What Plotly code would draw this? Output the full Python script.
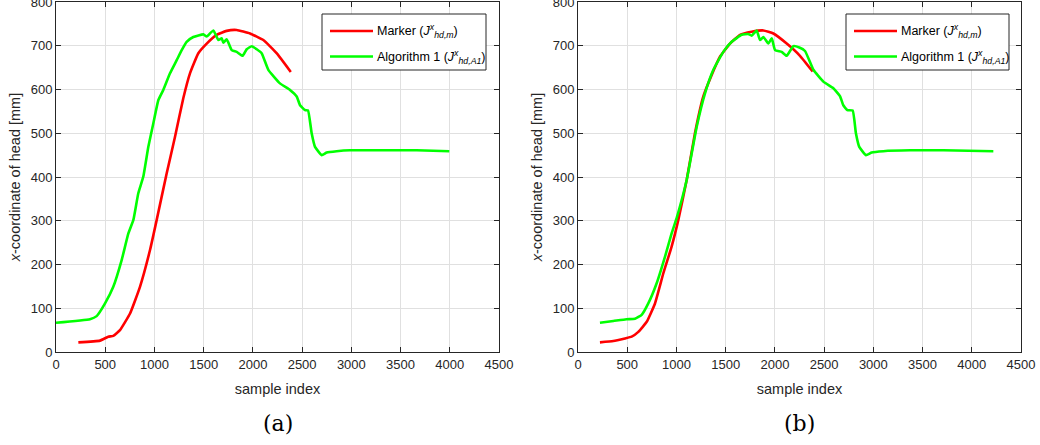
import plotly.graph_objects as go

W, H = 1040, 445

# ---- data: head x-coordinate vs. sample index ----
marker_a_idx = [227, 447, 531, 582, 650, 752, 853, 955, 1023, 1124, 1209, 1293, 1361, 1446,
                1531, 1632, 1734, 1835, 1971, 2106, 2241, 2385]
marker_a_val = [22, 26, 35, 37, 50, 88, 149, 233, 302, 408, 492, 580, 637, 683,
                705, 725, 734, 736, 728, 713, 683, 640]

algo_a_idx = [0, 345, 413, 498, 582, 667, 735, 786, 836, 887, 938, 989, 1040, 1090, 1158,
              1226, 1277, 1327, 1395, 1497, 1531, 1599, 1649, 1683, 1700, 1734, 1785, 1835,
              1896, 1937, 1988, 2039, 2089, 2157, 2275, 2377, 2445, 2479, 2530, 2560, 2597,
              2631, 2699, 2750, 2851, 2986, 3325, 3664, 3995]
algo_a_val = [67, 75, 82, 111, 149, 210, 271, 302, 363, 401, 469, 523, 576, 599, 637,
              667, 690, 709, 720, 726, 721, 735, 713, 717, 707, 715, 690, 686,
              677, 692, 699, 692, 683, 645, 614, 599, 584, 564, 553, 552, 500,
              469, 450, 456, 459, 461, 461, 461, 459]

marker_b_idx = [223, 359, 477, 545, 613, 698, 782, 867, 951, 1019, 1104, 1188, 1273, 1358,
                1442, 1544, 1646, 1764, 1883, 1985, 2120, 2255, 2384]
marker_b_val = [22, 25, 31, 35, 46, 69, 111, 180, 241, 302, 393, 500, 584, 633,
                675, 705, 725, 732, 735, 728, 705, 677, 641]

algo_b_idx = [223, 359, 494, 579, 647, 714, 799, 884, 951, 1002, 1104, 1206, 1290, 1375,
              1476, 1561, 1663, 1730, 1764, 1815, 1849, 1883, 1934, 1968, 2002, 2069, 2120,
              2187, 2248, 2306, 2391, 2492, 2594, 2661, 2695, 2736, 2790, 2823, 2857, 2925,
              2983, 3101, 3373, 3712, 4219]
algo_b_val = [67, 71, 75, 76, 85, 111, 157, 218, 271, 306, 393, 515, 591, 645,
              686, 709, 725, 727, 723, 735, 713, 720, 705, 717, 690, 686, 677,
              699, 696, 688, 645, 618, 603, 585, 564, 553, 552, 500, 469, 450,
              456, 459, 461, 461, 459]

x_ticks = [0, 500, 1000, 1500, 2000, 2500, 3000, 3500, 4000, 4500]
y_ticks = [0, 100, 200, 300, 400, 500, 600, 700, 800]

legend_labels = ["Marker (<i>J</i><sup><i>x</i></sup><sub><i>hd,m</i></sub>)",
                 "Algorithm 1 (<i>J</i><sup><i>x</i></sup><sub><i>hd,A1</i></sub>)"]
panel_tags = ["(a)", "(b)"]

RED = "#ff0000"
GREEN = "#00ff00"
AX = "#262626"
GRID = "#e0e0e0"
FONT = "Liberation Sans, Arial, sans-serif"


def px_x(p):
    return p / W


def px_y(p):
    return 1 - p / H


# plot-area pixel boxes (left, right) and vertical extent shared by both panels
panels = [(56, 499), (578, 1021)]
top_px, bot_px = 2, 352

fig = go.Figure()

series = [
    [(marker_a_idx, marker_a_val, RED), (algo_a_idx, algo_a_val, GREEN)],
    [(marker_b_idx, marker_b_val, RED), (algo_b_idx, algo_b_val, GREEN)],
]

for i, traces in enumerate(series):
    xa = "x" if i == 0 else "x2"
    ya = "y" if i == 0 else "y2"
    for xs, ys, col in traces:
        fig.add_trace(go.Scatter(x=xs, y=ys, mode="lines", xaxis=xa, yaxis=ya,
                                 line=dict(color=col, width=2.6, shape="spline", smoothing=0.4),
                                 showlegend=False, hoverinfo="skip"))

axis_common = dict(showline=True, linecolor=AX, linewidth=1, mirror="ticks",
                   ticks="inside", ticklen=5, tickcolor=AX, showgrid=True,
                   gridcolor=GRID, gridwidth=1, zeroline=False, automargin=False,
                   ticklabeloverflow="allow",
                   tickfont=dict(family=FONT, size=13, color=AX))

layout = dict(width=W, height=H, margin=dict(l=0, r=0, t=0, b=0),
              plot_bgcolor="white", paper_bgcolor="white", showlegend=False)

for i, (l, r) in enumerate(panels):
    sx = "" if i == 0 else "2"
    layout["xaxis" + sx] = dict(axis_common, domain=[px_x(l), px_x(r)], range=[0, 4500],
                                tickvals=x_ticks, anchor="y" + sx,
                                title=dict(text="sample index", standoff=13,
                                           font=dict(family=FONT, size=14.5, color=AX)))
    layout["yaxis" + sx] = dict(axis_common, domain=[px_y(bot_px), px_y(top_px)], range=[0, 800],
                                tickvals=y_ticks, anchor="x" + sx,
                                title=dict(text="<i>x</i>-coordinate of head [mm]", standoff=6,
                                           font=dict(family=FONT, size=14.5, color=AX)))

fig.update_layout(**layout)

# legend boxes drawn in each panel's upper-right corner
legend_boxes = [(322, 486), (846, 1009)]
shapes = []
annotations = []
for (bl, br), tag, (l, r) in zip(legend_boxes, panel_tags, panels):
    shapes.append(dict(type="rect", xref="paper", yref="paper",
                       x0=px_x(bl), x1=px_x(br), y0=px_y(70), y1=px_y(14),
                       line=dict(color=AX, width=1), fillcolor="white", layer="above"))
    for row, (lab, col) in enumerate(zip(legend_labels, [RED, GREEN])):
        yy = 31 + 25.5 * row
        shapes.append(dict(type="line", xref="paper", yref="paper",
                           x0=px_x(bl + 8), x1=px_x(bl + 51), y0=px_y(yy), y1=px_y(yy),
                           line=dict(color=col, width=2.6), layer="above"))
        annotations.append(dict(text=lab, xref="paper", yref="paper", x=px_x(bl + 53),
                                y=px_y(yy), xanchor="left", yanchor="middle", showarrow=False,
                                font=dict(family=FONT, size=12.5, color="black")))
    annotations.append(dict(text=tag, xref="paper", yref="paper", x=px_x((l + r) / 2),
                            y=px_y(423), xanchor="center", yanchor="middle", showarrow=False,
                            font=dict(family="DejaVu Serif, Liberation Serif, serif", size=22,
                                      color="black")))

fig.update_layout(shapes=shapes, annotations=annotations)
fig.write_html("out.html")
